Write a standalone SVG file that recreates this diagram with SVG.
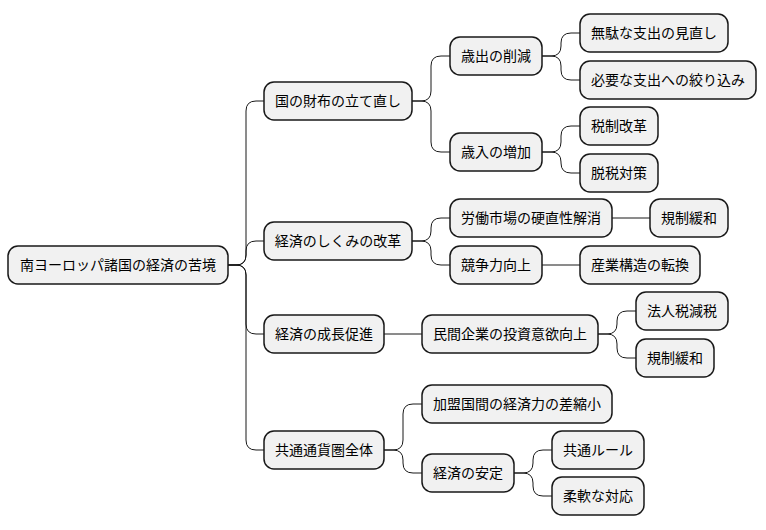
<svg xmlns="http://www.w3.org/2000/svg" width="766" height="530" viewBox="0 0 766 530">
<style>
.n rect{fill:#F1F1F1;stroke:#181818;stroke-width:1.5}
.n text{font-family:"Liberation Sans","Noto Sans CJK JP",sans-serif;font-size:14px;fill:#000;text-anchor:middle;dominant-baseline:central}
#edges path{fill:none;stroke:#181818;stroke-width:1}
</style>
<rect width="766" height="530" fill="#fff"/>
<g id="edges">
<path d="M228,265 H236 Q246,265 246,255 V111 Q246,101 256,101 H264"/>
<path d="M228,265 H236 Q246,265 246,255 V251 Q246,241 256,241 H264"/>
<path d="M228,265 H236 Q246,265 246,275 V324 Q246,334 256,334 H264"/>
<path d="M228,265 H236 Q246,265 246,275 V440 Q246,450 256,450 H264"/>
<path d="M412,101 H421 Q431,101 431,91 V66 Q431,56 441,56 H450"/>
<path d="M412,101 H421 Q431,101 431,111 V142 Q431,152 441,152 H450"/>
<path d="M412,241 H421 Q431,241 431,231 V228 Q431,218 441,218 H450"/>
<path d="M412,241 H421 Q431,241 431,251 V255 Q431,265 441,265 H450"/>
<path d="M384,334 H422"/>
<path d="M384,450 H393 Q403,450 403,440 V414 Q403,404 413,404 H422"/>
<path d="M384,450 H393 Q403,450 403,460 V463 Q403,473 413,473 H422"/>
<path d="M542,56 H551 Q561,56 561,46 V43 Q561,33 571,33 H580"/>
<path d="M542,56 H551 Q561,56 561,66 V70 Q561,80 571,80 H580"/>
<path d="M542,152 H551 Q561,152 561,142 V136 Q561,126 571,126 H580"/>
<path d="M542,152 H551 Q561,152 561,162 V163 Q561,173 571,173 H580"/>
<path d="M612,218 H650"/>
<path d="M542,265 H580"/>
<path d="M598,334 H607 Q617,334 617,324 V321 Q617,311 627,311 H636"/>
<path d="M598,334 H607 Q617,334 617,344 V348 Q617,358 627,358 H636"/>
<path d="M514,473 H523 Q533,473 533,463 V460 Q533,450 543,450 H552"/>
<path d="M514,473 H523 Q533,473 533,483 V486 Q533,496 543,496 H552"/>
</g>
<g id="root" class="n"><rect x="8" y="246" width="220" height="38" rx="10"/><text x="118" y="265">南ヨーロッパ諸国の経済の苦境</text></g>
<g id="n1" class="n"><rect x="264" y="82" width="148" height="38" rx="10"/><text x="338" y="101">国の財布の立て直し</text></g>
<g id="n2" class="n"><rect x="264" y="222" width="148" height="38" rx="10"/><text x="338" y="241">経済のしくみの改革</text></g>
<g id="n3" class="n"><rect x="264" y="315" width="120" height="38" rx="10"/><text x="324" y="334">経済の成長促進</text></g>
<g id="n4" class="n"><rect x="264" y="431" width="120" height="38" rx="10"/><text x="324" y="450">共通通貨圏全体</text></g>
<g id="n11" class="n"><rect x="450" y="37" width="92" height="38" rx="10"/><text x="496" y="56">歳出の削減</text></g>
<g id="n12" class="n"><rect x="450" y="133" width="92" height="38" rx="10"/><text x="496" y="152">歳入の増加</text></g>
<g id="n21" class="n"><rect x="450" y="199" width="162" height="38" rx="10"/><text x="531" y="218">労働市場の硬直性解消</text></g>
<g id="n22" class="n"><rect x="450" y="246" width="92" height="38" rx="10"/><text x="496" y="265">競争力向上</text></g>
<g id="n31" class="n"><rect x="422" y="315" width="176" height="38" rx="10"/><text x="510" y="334">民間企業の投資意欲向上</text></g>
<g id="n41" class="n"><rect x="422" y="385" width="190" height="38" rx="10"/><text x="517" y="404">加盟国間の経済力の差縮小</text></g>
<g id="n42" class="n"><rect x="422" y="454" width="92" height="38" rx="10"/><text x="468" y="473">経済の安定</text></g>
<g id="n111" class="n"><rect x="580" y="14" width="148" height="38" rx="10"/><text x="654" y="33">無駄な支出の見直し</text></g>
<g id="n112" class="n"><rect x="580" y="61" width="176" height="38" rx="10"/><text x="668" y="80">必要な支出への絞り込み</text></g>
<g id="n121" class="n"><rect x="580" y="107" width="78" height="38" rx="10"/><text x="619" y="126">税制改革</text></g>
<g id="n122" class="n"><rect x="580" y="154" width="78" height="38" rx="10"/><text x="619" y="173">脱税対策</text></g>
<g id="n211" class="n"><rect x="650" y="199" width="78" height="38" rx="10"/><text x="689" y="218">規制緩和</text></g>
<g id="n221" class="n"><rect x="580" y="246" width="120" height="38" rx="10"/><text x="640" y="265">産業構造の転換</text></g>
<g id="n311" class="n"><rect x="636" y="292" width="92" height="38" rx="10"/><text x="682" y="311">法人税減税</text></g>
<g id="n312" class="n"><rect x="636" y="339" width="78" height="38" rx="10"/><text x="675" y="358">規制緩和</text></g>
<g id="n421" class="n"><rect x="552" y="431" width="92" height="38" rx="10"/><text x="598" y="450">共通ルール</text></g>
<g id="n422" class="n"><rect x="552" y="477" width="92" height="38" rx="10"/><text x="598" y="496">柔軟な対応</text></g>
</svg>
